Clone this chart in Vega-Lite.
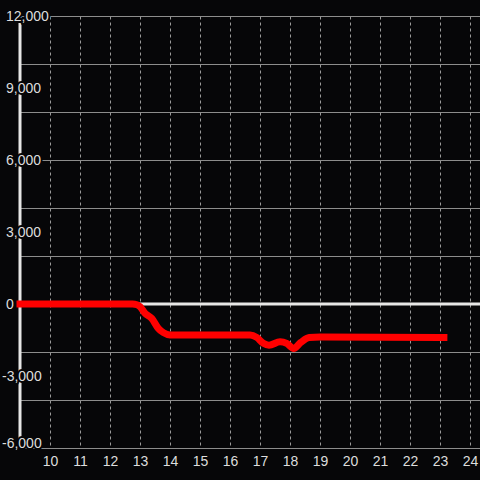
{
  "$schema": "https://vega.github.io/schema/vega-lite/v6.json",
  "width": 460,
  "height": 432,
  "padding": {"left": 20, "top": 16, "right": 0, "bottom": 32},
  "autosize": {"type": "none"},
  "background": "#060608",
  "config": {
    "view": {"stroke": null}
  },
  "datasets": {
    "series": [
      {"x": 9, "y": 0},
      {"x": 12.75, "y": 0},
      {"x": 12.9, "y": -30},
      {"x": 13.0, "y": -110},
      {"x": 13.17, "y": -390},
      {"x": 13.39, "y": -600},
      {"x": 13.61, "y": -1014},
      {"x": 13.78, "y": -1194},
      {"x": 14.0, "y": -1290},
      {"x": 16.67, "y": -1290},
      {"x": 16.89, "y": -1390},
      {"x": 17.11, "y": -1640},
      {"x": 17.3, "y": -1720},
      {"x": 17.67, "y": -1570},
      {"x": 17.89, "y": -1640},
      {"x": 18.12, "y": -1850},
      {"x": 18.36, "y": -1600},
      {"x": 18.64, "y": -1400},
      {"x": 19.0, "y": -1380},
      {"x": 23.13, "y": -1400}
    ],
    "ylabels": [
      {"y": 12000, "label": "12,000"},
      {"y": 9000, "label": "9,000"},
      {"y": 6000, "label": "6,000"},
      {"y": 3000, "label": "3,000"},
      {"y": 0, "label": "0"},
      {"y": -3000, "label": "-3,000"},
      {"y": -6000, "label": "-6,000"}
    ],
    "zero": [{"y": 0}]
  },
  "layer": [
    {
      "data": {"name": "zero"},
      "mark": {"type": "rule", "color": "#e6e6e6", "strokeWidth": 3},
      "encoding": {
        "y": {"field": "y", "type": "quantitative"}
      }
    },
    {
      "data": {"values": [{}]},
      "mark": {"type": "rule", "color": "#e6e6e6", "strokeWidth": 3},
      "encoding": {
        "x": {"datum": 9, "type": "quantitative"},
        "y": {"datum": 12000, "type": "quantitative"},
        "y2": {"datum": -6000}
      }
    },
    {
      "data": {"name": "ylabels"},
      "transform": [{"filter": "datum.y >= 0"}],
      "mark": {"type": "text", "font": "Liberation Sans", "fontSize": 14, "align": "left", "baseline": "middle", "dx": -14, "dy": 1, "fill": "#060608", "stroke": "#060608", "strokeWidth": 4, "strokeJoin": "round"},
      "encoding": {
        "x": {"datum": 9, "type": "quantitative"},
        "y": {"field": "y", "type": "quantitative"},
        "text": {"field": "label"}
      }
    },
    {
      "data": {"name": "ylabels"},
      "transform": [{"filter": "datum.y == -3000"}],
      "mark": {"type": "text", "font": "Liberation Sans", "fontSize": 14, "align": "left", "baseline": "middle", "dx": -18, "dy": 1, "fill": "#060608", "stroke": "#060608", "strokeWidth": 4, "strokeJoin": "round"},
      "encoding": {
        "x": {"datum": 9, "type": "quantitative"},
        "y": {"field": "y", "type": "quantitative"},
        "text": {"field": "label"}
      }
    },
    {
      "data": {"name": "ylabels"},
      "transform": [{"filter": "datum.y == -6000"}],
      "mark": {"type": "text", "font": "Liberation Sans", "fontSize": 14, "align": "left", "baseline": "alphabetic", "dx": -18, "fill": "#060608", "stroke": "#060608", "strokeWidth": 4, "strokeJoin": "round"},
      "encoding": {
        "x": {"datum": 9, "type": "quantitative"},
        "y": {"field": "y", "type": "quantitative"},
        "text": {"field": "label"}
      }
    },
    {
      "data": {"name": "series"},
      "mark": {"type": "line", "color": "#ff0000", "strokeWidth": 7, "interpolate": "monotone", "strokeCap": "square", "strokeJoin": "round"},
      "encoding": {
        "x": {
          "field": "x", "type": "quantitative",
          "scale": {"domain": [9, 24.3333], "nice": false, "zero": false},
          "axis": {
            "title": null, "domain": false, "ticks": false, "tickSize": 0,
            "values": [10, 11, 12, 13, 14, 15, 16, 17, 18, 19, 20, 21, 22, 23, 24],
            "tickCount": 15,
            "format": "d", "labelPadding": 6, "labelFont": "Liberation Sans",
            "labelFontSize": 14, "labelColor": "#dddddd", "labelBound": false, "labelFlush": false,
            "labelOverlap": false,
            "grid": true, "gridColor": "#9a9a9a", "gridDash": [3, 3], "gridWidth": 1, "gridOpacity": 1
          }
        },
        "y": {
          "field": "y", "type": "quantitative",
          "scale": {"domain": [-6000, 12000], "nice": false, "zero": false},
          "axis": {
            "title": null, "labels": false, "ticks": false, "domain": false,
            "values": [-6000, -5000, -4000, -3000, -2000, -1000, 0, 1000, 2000, 3000, 4000, 5000, 6000, 7000, 8000, 9000, 10000, 11000, 12000],
            "tickCount": 18,
            "grid": true, "gridColor": "#8c8c8c", "gridWidth": 1, "gridOpacity": 1
          }
        }
      }
    },
    {
      "data": {"name": "ylabels"},
      "transform": [{"filter": "datum.y >= 0"}],
      "mark": {"type": "text", "font": "Liberation Sans", "fontSize": 14, "align": "left", "baseline": "middle", "dx": -14, "dy": 1, "fill": "#dddddd"},
      "encoding": {
        "x": {"datum": 9, "type": "quantitative"},
        "y": {"field": "y", "type": "quantitative"},
        "text": {"field": "label"}
      }
    },
    {
      "data": {"name": "ylabels"},
      "transform": [{"filter": "datum.y == -3000"}],
      "mark": {"type": "text", "font": "Liberation Sans", "fontSize": 14, "align": "left", "baseline": "middle", "dx": -18, "dy": 1, "fill": "#dddddd"},
      "encoding": {
        "x": {"datum": 9, "type": "quantitative"},
        "y": {"field": "y", "type": "quantitative"},
        "text": {"field": "label"}
      }
    },
    {
      "data": {"name": "ylabels"},
      "transform": [{"filter": "datum.y == -6000"}],
      "mark": {"type": "text", "font": "Liberation Sans", "fontSize": 14, "align": "left", "baseline": "alphabetic", "dx": -18, "fill": "#dddddd"},
      "encoding": {
        "x": {"datum": 9, "type": "quantitative"},
        "y": {"field": "y", "type": "quantitative"},
        "text": {"field": "label"}
      }
    }
  ]
}
